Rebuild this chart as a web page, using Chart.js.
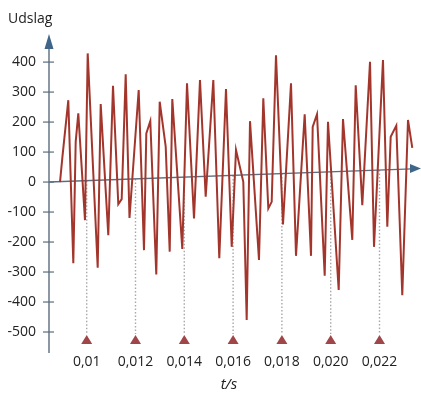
<!DOCTYPE html>
<html>
<head>
<meta charset="utf-8">
<script src="https://cdn.jsdelivr.net/npm/chart.js@4/dist/chart.umd.min.js"></script>
<style>
  html, body { margin: 0; padding: 0; background: #fff; }
  #wrap { width: 421px; height: 396px; }
</style>
</head>
<body>
<div id="wrap"><canvas id="chart" width="421" height="396"></canvas></div>
<script>
// time of each vertex (s)
const tSec = [
  0.008906, 0.009000, 0.009246, 0.009451, 0.009549, 0.009656, 0.009930, 0.010041,
  0.010451, 0.010574, 0.010885, 0.011078, 0.011295, 0.011434, 0.011598, 0.011754,
  0.012131, 0.012348, 0.012443, 0.012607, 0.012852, 0.012992, 0.013238, 0.013402,
  0.013508, 0.013918, 0.014111, 0.014398, 0.014643, 0.014877, 0.015189, 0.015434,
  0.015709, 0.015943, 0.016119, 0.016418, 0.016557, 0.016693, 0.017061, 0.017238,
  0.017443, 0.017582, 0.017758, 0.018045, 0.018373, 0.018578, 0.018934, 0.019193,
  0.019262, 0.019439, 0.019754, 0.019889, 0.020328, 0.020504, 0.020885, 0.021025,
  0.021295, 0.021611, 0.021775, 0.022143, 0.022320, 0.022459, 0.022689, 0.022934,
  0.023168, 0.023344
];
// udslag at each vertex
const udslag = [
  0, 80, 273, -271, 134, 229, -127, 429,
  -286, 260, -177, 321, -74, -57, 359, -120,
  307, -227, 162, 203, -308, 268, 118, -232,
  277, -223, 329, -121, 340, -49, 340, -254,
  310, -216, 107, 1, -460, 203, -260, 279,
  -88, -66, 423, -141, 329, -246, 226, -246,
  184, 226, -312, 201, -360, 210, -193, 323,
  -77, 401, -216, 407, -149, 151, 188, -377,
  207, 114
];

const xTickValues = [0.010, 0.012, 0.014, 0.016, 0.018, 0.020, 0.022];
const xTickLabels = ['0,01', '0,012', '0,014', '0,016', '0,018', '0,020', '0,022'];
const yTickValues = [-500, -400, -300, -200, -100, 0, 100, 200, 300, 400];
const yTickLabels = ['-500', '-400', '-300', '-200', '-100', '0', '100', '200', '300', '400'];

const axisColor = '#5b6d7e';
const arrowColor = '#3f6688';
const lineColor = '#a3362c';
const markColor = '#a04548';
const FONT = '"Open Sans", "Noto Sans", sans-serif';

// the zero line in the picture rises slightly to the right
const zeroLineRise = 45;

const decorations = {
  id: 'decorations',
  beforeDatasetsDraw(chart) {
    const { ctx, chartArea, scales } = chart;
    const xs = scales.x, ys = scales.y;
    const ax = chartArea.left;
    ctx.save();

    // dotted guide lines + triangles at each x tick
    xTickValues.forEach(v => {
      const px = xs.getPixelForValue(v);
      const frac = (px - ax) / (421 - ax);
      const y0 = ys.getPixelForValue(zeroLineRise * frac);
      ctx.strokeStyle = '#a8a8a8';
      ctx.lineWidth = 1.4;
      ctx.setLineDash([1.5, 2]);
      ctx.beginPath();
      ctx.moveTo(px, y0);
      ctx.lineTo(px, 334);
      ctx.stroke();
      ctx.setLineDash([]);
      ctx.fillStyle = markColor;
      ctx.beginPath();
      ctx.moveTo(px, 335);
      ctx.lineTo(px - 5.5, 344);
      ctx.lineTo(px + 5.5, 344);
      ctx.closePath();
      ctx.fill();
    });

    // y axis with arrow
    ctx.strokeStyle = axisColor;
    ctx.lineWidth = 1.4;
    ctx.beginPath();
    ctx.moveTo(ax, chartArea.bottom);
    ctx.lineTo(ax, 46);
    ctx.stroke();
    ctx.fillStyle = arrowColor;
    ctx.beginPath();
    ctx.moveTo(ax, 34);
    ctx.lineTo(ax - 4.5, 49);
    ctx.lineTo(ax + 4.5, 49);
    ctx.closePath();
    ctx.fill();

    // y tick marks crossing the axis
    ctx.strokeStyle = axisColor;
    ctx.lineWidth = 1.2;
    yTickValues.forEach(v => {
      const py = ys.getPixelForValue(v);
      ctx.beginPath();
      ctx.moveTo(ax - 6, py);
      ctx.lineTo(ax + 5, py);
      ctx.stroke();
    });

    // x axis (zero line) with arrow
    const yStart = ys.getPixelForValue(0);
    const yEnd = ys.getPixelForValue(zeroLineRise);
    ctx.strokeStyle = axisColor;
    ctx.lineWidth = 1.4;
    ctx.beginPath();
    ctx.moveTo(ax, yStart);
    ctx.lineTo(412, yStart + (yEnd - yStart) * (412 - ax) / (421 - ax));
    ctx.stroke();
    ctx.fillStyle = arrowColor;
    ctx.beginPath();
    ctx.moveTo(421, yEnd);
    ctx.lineTo(410, yEnd - 4.5);
    ctx.lineTo(410, yEnd + 4.5);
    ctx.closePath();
    ctx.fill();

    // texts
    ctx.fillStyle = '#222';
    ctx.font = '14px ' + FONT;
    ctx.textAlign = 'left';
    ctx.textBaseline = 'middle';
    ctx.fillText('Udslag', 8, 19);
    ctx.font = 'italic 15px ' + FONT;
    ctx.textAlign = 'center';
    ctx.fillText('t/s', 229, 385);
    ctx.restore();
  }
};

new Chart(document.getElementById('chart'), {
  type: 'line',
  data: {
    datasets: [{
      label: 'Udslag',
      data: tSec.map((t, i) => ({ x: t, y: udslag[i] })),
      borderColor: lineColor,
      borderWidth: 2,
      pointRadius: 0,
      tension: 0,
      fill: false
    }]
  },
  options: {
    responsive: false,
    animation: false,
    layout: { padding: { top: 36, right: 3, bottom: 0, left: 0 } },
    plugins: { legend: { display: false }, tooltip: { enabled: false } },
    scales: {
      x: {
        type: 'linear',
        min: 0.008455,
        max: 0.023578,
        grid: { display: false, drawTicks: false },
        border: { display: false },
        afterBuildTicks: s => { s.ticks = xTickValues.map(v => ({ value: v })); },
        afterFit: s => { s.height = 43; },
        ticks: {
          autoSkip: false,
          maxRotation: 0,
          padding: 1,
          color: '#222',
          font: { family: FONT, size: 14 },
          callback: (v, i) => xTickLabels[i]
        }
      },
      y: {
        min: -570,
        max: 487,
        grid: { display: false, drawTicks: false },
        border: { display: false },
        afterBuildTicks: s => { s.ticks = yTickValues.map(v => ({ value: v })); },
        afterFit: s => { s.width = 49; },
        ticks: {
          padding: 13,
          color: '#222',
          font: { family: FONT, size: 14 },
          callback: (v, i) => yTickLabels[i]
        }
      }
    }
  },
  plugins: [decorations]
});
</script>
</body>
</html>
